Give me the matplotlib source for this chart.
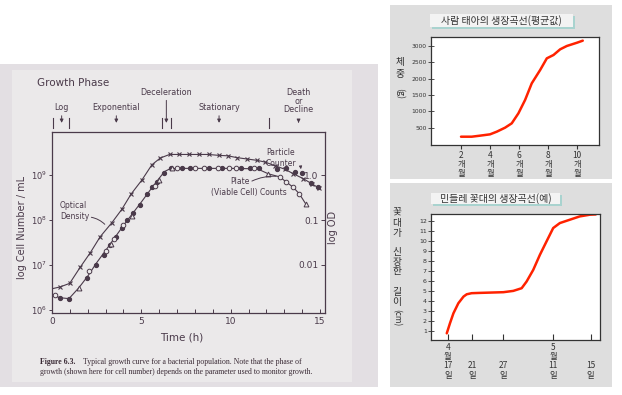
import matplotlib
matplotlib.use("Agg")
from matplotlib import pyplot as plt
from matplotlib.patches import Rectangle
from matplotlib.ticker import NullLocator
import numpy as np

W, H = 622, 395
KR = ["Noto Sans CJK KR", "DejaVu Sans"]
INK = "#4a3a4a"

# --- Figure 6.3: growth curve, log10(cells / mL) against hours ---
od_t = [0, 0.45, 0.99, 1.58, 2.14, 2.70, 3.35, 3.91, 4.43, 5.03, 5.59, 6.06, 6.58,
        7.12, 7.64, 8.2, 8.76, 9.32, 9.84, 10.34, 10.9, 11.46, 11.93, 12.48, 13.04,
        13.51, 14.07, 14.53, 14.95]
od_log = [6.47, 6.51, 6.59, 6.95, 7.27, 7.63, 7.94, 8.24, 8.58, 8.89, 9.23, 9.38, 9.46,
          9.46, 9.46, 9.46, 9.46, 9.44, 9.43, 9.39, 9.36, 9.33, 9.29, 9.21, 9.13,
          9.03, 8.92, 8.81, 8.71]

plate_line_t = [0, 0.45, 0.95, 1.5, 2.0, 2.5, 3.0, 3.5, 4.0, 4.5, 5.0, 5.5, 6.0, 6.3,
                6.6, 7.0, 8.0, 9.0, 10.0, 11.5, 12.1, 12.75, 13.1, 13.5, 13.85, 14.2]
plate_line_log = [6.33, 6.27, 6.25, 6.49, 6.75, 7.05, 7.32, 7.60, 7.88, 8.14, 8.40, 8.67,
                  8.93, 9.08, 9.14, 9.15, 9.15, 9.15, 9.15, 9.14, 9.03, 8.96, 8.85, 8.73,
                  8.58, 8.36]

count_t = [0.45, 0.95, 1.95, 2.45, 2.9, 3.25, 3.6, 3.9, 4.2, 4.55, 4.95, 5.3, 5.6, 5.9,
           6.25, 6.65, 7.25, 7.75, 8.8, 9.5, 10.6, 11.1, 11.6, 12.6, 13.1, 13.6, 14.0,
           14.5, 14.9]
count_log = [6.27, 6.25, 6.70, 6.99, 7.22, 7.44, 7.63, 7.82, 7.99, 8.15, 8.33, 8.58, 8.73,
             8.84, 9.04, 9.15, 9.15, 9.15, 9.15, 9.15, 9.15, 9.15, 9.15, 9.14, 9.15, 9.08,
             9.04, 8.83, 8.73]

plate_o_t = [0.15, 2.05, 3.0, 3.45, 4.0, 5.75, 7.0, 8.0, 8.5, 9.3, 9.9, 10.3, 11.3,
             12.75, 13.1, 13.5, 13.85]
plate_o_log = [6.34, 6.87, 7.32, 7.58, 7.88, 8.76, 9.15, 9.15, 9.15, 9.15, 9.15, 9.15,
               9.15, 8.96, 8.85, 8.73, 8.58]

plate_tri_t = [1.5, 3.3, 4.5, 6.0, 6.7, 12.1, 14.2]
plate_tri_log = [6.49, 7.46, 8.08, 8.90, 9.15, 9.03, 8.36]

cell_ticks = [1e6, 1e7, 1e8, 1e9]
od_ticks = [0.01, 0.1, 1.0]
od_tick_labels = ["0.01", "0.1", "1.0"]

phase_names = ["Log", "Exponential", "Deceleration", "Stationary", "Death\nor\nDecline"]
phase_mid = [0.54, 3.6, 6.4, 9.35, 13.8]
phase_edges = [0.04, 0.97, 6.14, 6.64, 12.16]

# --- fetus growth (mean) ---
fetus_month = [2.0, 2.74, 3.3, 4.0, 4.47, 5.04, 5.5, 5.96, 6.42, 6.88, 7.46, 7.92, 8.38,
               8.84, 9.3, 10.0, 10.4]
fetus_weight = [224, 224, 255, 296, 378, 500, 633, 939, 1347, 1857, 2265, 2622, 2724,
                2898, 3000, 3100, 3163]
month_ticks = [2, 4, 6, 8, 10]
weight_ticks = [500, 1000, 1500, 2000, 2500, 3000]

# --- dandelion flower stalk ---
stalk_pos = [0.96, 1.09, 1.23, 1.43, 1.64, 1.77, 1.97, 2.31, 2.72, 3.26, 3.66, 4.0, 4.2,
             4.47, 4.74, 5.01, 5.28, 5.55, 5.96, 6.36, 6.77, 7.01]
stalk_cm = [0.76, 1.77, 2.77, 3.78, 4.45, 4.68, 4.79, 4.82, 4.85, 4.89, 5.02, 5.29, 5.96,
            7.13, 8.64, 9.99, 11.33, 11.83, 12.17, 12.5, 12.67, 12.7]
date_ticks = [1, 2, 3.26, 5.28, 6.8]
date_labels = ["4\n월\n17\n일", "\n\n21\n일", "\n\n27\n일", "5\n월\n11\n일", "\n\n15\n일"]
cm_ticks = list(range(1, 13))


def rect(l, t, r, b):
    return [l / W, 1 - b / H, (r - l) / W, (b - t) / H]


fig = plt.figure(figsize=(W / 100, H / 100), dpi=100)
fig.patch.set_facecolor("white")

bg = fig.add_axes([0, 0, 1, 1], zorder=-10)
bg.set_xlim(0, W)
bg.set_ylim(H, 0)
bg.axis("off")

# scanned page and the two grey cards
bg.add_patch(Rectangle((0, 64), 378, 323, fc="#e3dfe3", ec="none"))
bg.add_patch(Rectangle((12, 70), 340, 312, fc="#ebe9ea", ec="none"))
for top, bottom in [(5, 179), (183, 387)]:
    bg.add_patch(Rectangle((390, top), 222, bottom - top, fc="#dedede", ec="none"))


def title_box(l, t, r, b, text):
    bg.add_patch(Rectangle((l + 2, t + 2), r - l, b - t, fc="#a9d3cf", ec="none"))
    bg.add_patch(Rectangle((l, t), r - l, b - t, fc="#f3f3f3", ec="none"))
    bg.text((l + r) / 2, (t + b) / 2, text, ha="center", va="center",
            fontsize=7.2, family=KR, color="#333333")


title_box(430, 14, 573, 27, "사람 태아의 생장곡선(평균값)")
title_box(431, 193, 560, 204, "민들레 꽃대의 생장곡선(예)")

# left page texts
bg.text(37, 83, "Growth Phase", fontsize=7.5, color=INK, va="center")
bg.text(22, 227, "log Cell Number / mL", rotation=90, ha="center", va="center",
        fontsize=7, color=INK)
bg.text(333, 227, "log OD", rotation=90, ha="center", va="center", fontsize=7, color=INK)
bg.text(182, 337, "Time (h)", ha="center", va="center", fontsize=7.5, color=INK)
cap = dict(family="Liberation Serif", fontsize=5.6, color="#3a2a35", va="center")
bg.text(40, 362, "Figure 6.3.", fontweight="bold", **cap)
bg.text(83, 362, "Typical growth curve for a bacterial population. Note that the phase of", **cap)
bg.text(40, 372, "growth (shown here for cell number) depends on the parameter used to monitor growth.", **cap)

# korean axis titles, stacked
for ch, y in zip("체중", [62, 74]):
    bg.text(400, y, ch, ha="center", va="center", fontsize=7, family=KR, color="#333333")
bg.text(400, 94, "(g)", rotation=-90, ha="center", va="center", fontsize=6.5, family=KR,
        color="#333333")
for ch, y in zip("꽃대가신장한길이", [212, 223, 233, 252, 262, 271, 292, 302]):
    bg.text(397, y, ch, ha="center", va="center", fontsize=7, family=KR, color="#333333")
bg.text(397, 318, "(cm)", rotation=-90, ha="center", va="center", fontsize=6, family=KR,
        color="#333333")

# ---------- left: growth curve ----------
ax = fig.add_axes(rect(52, 132, 325, 313))
ax.set_facecolor("none")
ax.set_yscale("log")
lo, hi = 10 ** 5.93, 10 ** 9.96
ax.set_xlim(0, 15.28)
ax.set_ylim(lo, hi)
ln = dict(color=INK, lw=0.8)
ax.plot(od_t, 10 ** np.array(od_log), marker="x", ms=3.5, mew=0.8,
        markevery=list(range(1, len(od_t))), **ln)
ax.plot(plate_line_t, 10 ** np.array(plate_line_log), **ln)
ax.plot(count_t, 10 ** np.array(count_log), "o", ms=2.8, color=INK)
ax.plot(plate_o_t, 10 ** np.array(plate_o_log), "o", ms=3.3, mfc="#ebe9ea", mec=INK, mew=0.7)
ax.plot(plate_tri_t, 10 ** np.array(plate_tri_log), "^", ms=3.5, mfc="#ebe9ea", mec=INK, mew=0.7)

for s in ax.spines.values():
    s.set_color(INK)
    s.set_linewidth(0.9)
ax.set_xticks([0, 5, 10, 15])
ax.set_xticks(range(16), minor=True)
ax.tick_params(axis="x", which="both", direction="in", length=3, width=0.7, colors=INK,
               labelsize=6.5, pad=3)
ax.set_yticks(cell_ticks)
ax.yaxis.set_minor_locator(NullLocator())
ax.tick_params(axis="y", direction="out", length=2.5, width=0.7, colors=INK,
               labelsize=6, pad=1)

ax2 = ax.twinx()
ax2.set_yscale("log")
ax2.set_ylim(lo / 1e9, hi / 1e9)
ax2.set_yticks(od_ticks)
ax2.set_yticklabels(od_tick_labels, ha="right")
ax2.yaxis.set_minor_locator(NullLocator())
ax2.tick_params(axis="y", direction="in", length=3, width=0.7, colors=INK,
                labelsize=6.5, pad=-4.5)
for s in ax2.spines.values():
    s.set_visible(False)

# growth phase marks above the frame
trans = ax.get_xaxis_transform()
for t in phase_edges:
    ax.plot([t, t], [1.02, 1.079], transform=trans, clip_on=False, color=INK, lw=0.8)
label_y = [1.135, 1.135, 1.22, 1.135, 1.17]
arrow_top = [1.105, 1.105, 1.19, 1.105, 1.075]
for name, t, ly, at in zip(phase_names, phase_mid, label_y, arrow_top):
    ax.text(t, ly, name, transform=trans, ha="center", va="center", fontsize=5.8,
            color=INK, linespacing=0.95)
    ax.annotate("", xy=(t, 1.035), xytext=(t, at), xycoords=trans, textcoords=trans,
                arrowprops=dict(arrowstyle="-|>", lw=0.7, color=INK, mutation_scale=5))

tx = dict(fontsize=5.5, color=INK)
ax.text(0.45, 10 ** 8.2, "Optical\nDensity", ha="left", va="center", linespacing=1.35, **tx)
ax.annotate("", xy=(3.06, 10 ** 7.86), xytext=(2.05, 10 ** 8.07),
            arrowprops=dict(arrowstyle="-", lw=0.7, color=INK,
                            connectionstyle="arc3,rad=-0.2"))
ax.text(12.8, 10 ** 9.38, "Particle\nCounter", ha="center", va="center", linespacing=1.25, **tx)
ax.annotate("", xy=(13.95, 10 ** 9.07), xytext=(13.9, 10 ** 9.24),
            arrowprops=dict(arrowstyle="-|>", lw=0.7, color=INK, mutation_scale=4))
ax.text(10.52, 10 ** 8.85, "Plate", ha="center", va="center", **tx)
ax.text(11.04, 10 ** 8.62, "(Viable Cell) Counts", ha="center", va="center", **tx)
ax.annotate("", xy=(12.7, 10 ** 8.97), xytext=(11.05, 10 ** 8.84),
            arrowprops=dict(arrowstyle="-", lw=0.7, color=INK,
                            connectionstyle="arc3,rad=-0.15"))

RED = "#ff2200"
DARK = "#333333"

# ---------- top right: fetus weight ----------
axf = fig.add_axes(rect(431, 37, 599, 145))
axf.plot(fetus_month, fetus_weight, color=RED, lw=1.8, solid_capstyle="round")
axf.set_xlim(-0.07, 11.52)
axf.set_ylim(-30, 3275)
axf.set_xticks(month_ticks)
axf.set_xticklabels([f"{m}\n개\n월" for m in month_ticks], family=KR, linespacing=1.05)
axf.set_yticks(weight_ticks)
axf.tick_params(axis="x", direction="out", length=3, width=0.8, colors=DARK,
                labelsize=6, pad=1)
axf.tick_params(axis="y", direction="inout", length=4, width=0.6, colors=DARK,
                labelsize=4.3, pad=1)

# ---------- bottom right: dandelion stalk ----------
axd = fig.add_axes(rect(431, 214, 600, 340))
axd.plot(stalk_pos, stalk_cm, color=RED, lw=1.8, solid_capstyle="round")
axd.set_xlim(0.32, 7.18)
axd.set_ylim(0.09, 12.74)
axd.set_xticks(date_ticks)
axd.set_xticklabels(date_labels, family=KR, linespacing=1.05)
axd.set_yticks(cm_ticks)
axd.tick_params(axis="x", direction="in", length=4, width=0.8, colors=DARK,
                labelsize=6, pad=2)
axd.tick_params(axis="y", direction="inout", length=4, width=0.6, colors=DARK,
                labelsize=4.5, pad=1)

for a in (axf, axd):
    for s in a.spines.values():
        s.set_color(DARK)
        s.set_linewidth(0.9)

fig.savefig("out.png", dpi=100)
